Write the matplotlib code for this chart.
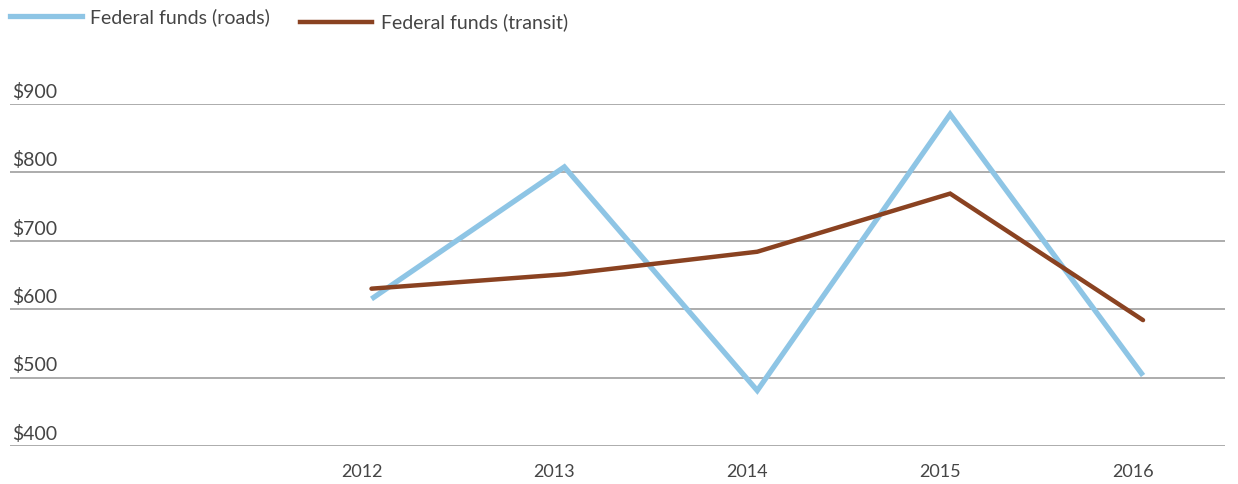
import matplotlib.pyplot as plt
from matplotlib.transforms import blended_transform_factory, ScaledTranslation

# DATA
years = [2012, 2013, 2014, 2015, 2016]
roads = [615, 808, 481, 885, 503]
transit = [630, 651, 684, 769, 584]
y_ticks = [400, 500, 600, 700, 800, 900]

plt.rcParams['font.family'] = ['Lato', 'DejaVu Sans']
text_col = '#454545'

fig = plt.figure(figsize=(12.38, 4.85), dpi=100)
ax = fig.add_axes([0.0081, 0.0784, 0.9814, 0.7051])

ax.plot(years, roads, color='#8ec5e5', linewidth=3.8, solid_capstyle='butt',
        solid_joinstyle='miter', label='Federal funds (roads)', zorder=3)
ax.plot(years, transit, color='#8a4221', linewidth=3.2, solid_capstyle='round',
        solid_joinstyle='miter', label='Federal funds (transit)', zorder=4)

ax.set_xlim(2010.126, 2016.425)
ax.set_ylim(400, 900)

# gridlines
for v in y_ticks:
    ax.axhline(v, color='#a6a6a6', linewidth=1.3, zorder=1)

# y labels sit above the gridlines
tr = blended_transform_factory(ax.transAxes, ax.transData)
for v in y_ticks:
    ax.text(0.002, v + 6, '$' + str(v), transform=tr, ha='left', va='bottom',
            fontsize=14, color=text_col)

ax.set_yticks([])
ax.set_xticks(years)
ax.set_xticklabels([str(y) for y in years], fontsize=13, color=text_col)
ax.tick_params(axis='x', length=0, pad=12)
# labels sit a little left of the data points
shift = ScaledTranslation(-10 / 100, 0, fig.dpi_scale_trans)
for lab in ax.get_xticklabels():
    lab.set_transform(lab.get_transform() + shift)
for s in ax.spines.values():
    s.set_visible(False)

# legend drawn by hand at top-left
fig.lines.append(plt.Line2D([10 / 1238, 82 / 1238], [1 - 17 / 485, 1 - 17 / 485],
                            transform=fig.transFigure, color='#8ec5e5', linewidth=3.8))
fig.text(90 / 1238, 1 - 17 / 485, 'Federal funds (roads)', fontsize=14,
         color=text_col, va='center', ha='left')
fig.lines.append(plt.Line2D([300 / 1238, 372 / 1238], [1 - 23 / 485, 1 - 23 / 485],
                            transform=fig.transFigure, color='#8a4221', linewidth=3.2))
fig.text(381 / 1238, 1 - 22 / 485, 'Federal funds (transit)', fontsize=14,
         color=text_col, va='center', ha='left')

fig.savefig('out.png', dpi=100)
